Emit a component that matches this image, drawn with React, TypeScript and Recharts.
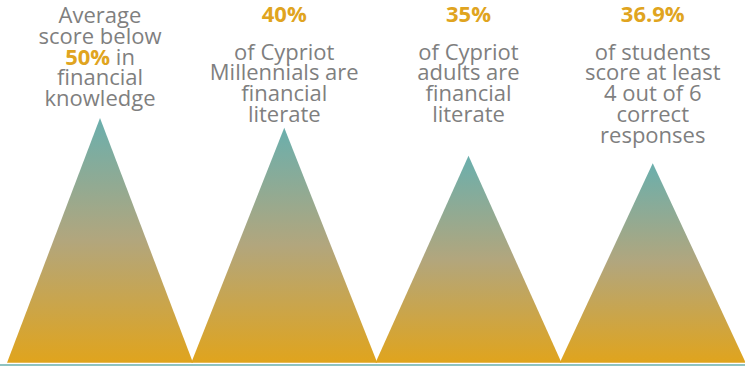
import { BarChart, Bar, XAxis, YAxis } from "recharts";

const GOLD = "#e0a420";
const GREY = "#7f7f7f";
const TEAL = "#6aafad";

const categories = ["Knowledge", "Millennials", "Adults", "Students"];
const heights = [67.7, 65, 57.3, 55.3];
const headlines = ["", "40%", "35%", "36.9%"];
// *text* marks the gold highlighted part of a line
const captions: string[][] = [
  ["Average", "score below", "*50%* in", "financial", "knowledge"],
  ["of Cypriot", "Millennials are", "financial", "literate"],
  ["of Cypriot", "adults are", "financial", "literate"],
  ["of students", "score at least", "4 out of 6", "correct", "responses"],
];

const data = categories.map((name, i) => ({
  name,
  value: heights[i],
  headline: headlines[i],
  lines: captions[i],
}));

const FONT = "'Open Sans', sans-serif";
const STEP = 20.8;

function Pyramid(props: any) {
  const { x, y, width, height, payload } = props;
  const cx = x + width / 2;
  const half = width / 2 + 1;
  const base = y + height - 2.2;
  const start = payload.headline ? 59.5 : 23;
  return (
    <g>
      <path d={`M${cx},${y} L${cx + half},${base} L${cx - half},${base} Z`} fill="url(#pyr)" />
      {payload.headline && (
        <text x={cx} y={22} textAnchor="middle" fill={GOLD} fontSize={22} fontWeight={700} fontFamily={FONT}>
          {payload.headline}
        </text>
      )}
      {payload.lines.map((line: string, i: number) => (
        <text key={i} x={cx} y={start + i * STEP} textAnchor="middle" fontSize={22} fontFamily={FONT} fill={GREY}>
          {line.split("*").map((seg, j) =>
            j % 2 === 1 ? (
              <tspan key={j} fill={GOLD} fontWeight={700}>{seg}</tspan>
            ) : (
              <tspan key={j}>{seg}</tspan>
            )
          )}
        </text>
      ))}
    </g>
  );
}

export default function App() {
  return (
    <div style={{ position: "absolute", left: 0, top: 0, background: "#fff" }}>
      <BarChart width={745} height={366} data={data} barCategoryGap={0} barGap={0}
        margin={{ top: 0, right: 0, bottom: 0, left: 0 }}>
        <defs>
          <linearGradient id="pyr" x1="0" y1="0" x2="0" y2="1">
            <stop offset="0%" stopColor={TEAL} />
            <stop offset="50%" stopColor="#b2a67d" />
            <stop offset="100%" stopColor="#e0a41d" />
          </linearGradient>
        </defs>
        <XAxis dataKey="name" tick={false} tickLine={false} height={1}
          axisLine={{ stroke: TEAL, strokeWidth: 1.5 }} padding={{ left: 8, right: 0 }} />
        <YAxis hide domain={[0, 100]} />
        <Bar dataKey="value" shape={<Pyramid />} isAnimationActive={false} />
      </BarChart>
    </div>
  );
}
